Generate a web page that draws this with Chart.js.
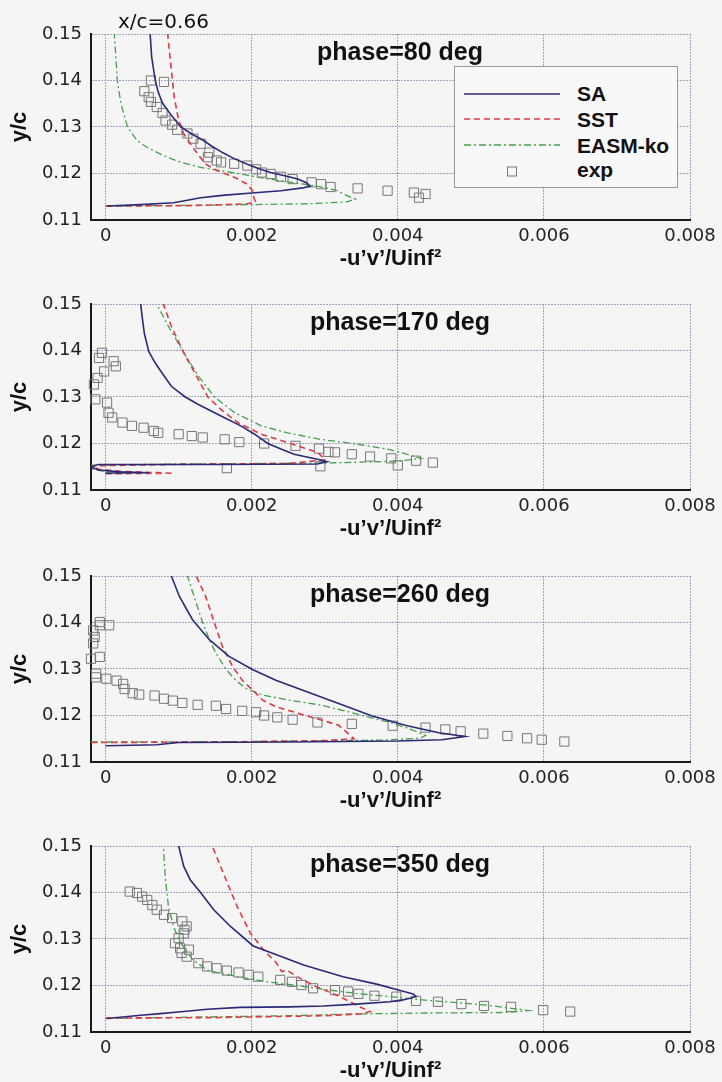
<!DOCTYPE html>
<html>
<head>
<meta charset="utf-8">
<title>-u'v' profiles at x/c=0.66</title>
<script src="https://cdn.jsdelivr.net/npm/chart.js"></script>
<style>
  body { margin: 0; background: #f5f5f5; }
  #page { position: relative; width: 722px; height: 1082px; overflow: hidden; font-family: "Liberation Sans", Arial, sans-serif; color: #111; }
  canvas { position: absolute; left: 0; }
  .phase { position: absolute; left: 250px; width: 300px; text-align: center; font-weight: bold; font-size: 25px; line-height: 25px; white-space: nowrap; }
  .xc { position: absolute; left: 118px; top: 11px; font-family: "DejaVu Sans", sans-serif; font-size: 20px; line-height: 20px; }
  #legend { position: absolute; left: 454px; top: 66px; width: 222px; height: 120px; border: 1px solid #9a9a9a; background: #f8f8f8; }
  #legend svg { position: absolute; left: 0; top: 0; }
  .lg { position: absolute; left: 122px; font-weight: bold; font-size: 21px; line-height: 21px; }
</style>
</head>
<body>
<div id="page">
  <canvas id="c80" width="722" height="270" style="top:0px"></canvas>
  <canvas id="c170" width="722" height="270" style="top:270px"></canvas>
  <canvas id="c260" width="722" height="270" style="top:542px"></canvas>
  <canvas id="c350" width="722" height="270" style="top:812px"></canvas>

  <div class="xc">x/c=0.66</div>
  <div class="phase" style="top:39px">phase=80 deg</div>
  <div class="phase" style="top:309px">phase=170 deg</div>
  <div class="phase" style="top:581px">phase=260 deg</div>
  <div class="phase" style="top:851px">phase=350 deg</div>

  <div id="legend">
    <svg width="224" height="122">
      <line x1="9" y1="27" x2="105" y2="27" stroke="#2b2a78" stroke-width="1.6"/>
      <line x1="9" y1="52" x2="105" y2="52" stroke="#dc3a44" stroke-width="1.6" stroke-dasharray="6 4"/>
      <line x1="9" y1="78" x2="105" y2="78" stroke="#46a04a" stroke-width="1.3" stroke-dasharray="7 3 2 3"/>
      <rect x="52.5" y="100" width="9" height="9" fill="none" stroke="#777" stroke-width="1"/>
    </svg>
    <div class="lg" style="top:16px">SA</div>
    <div class="lg" style="top:42px">SST</div>
    <div class="lg" style="top:68px">EASM-ko</div>
    <div class="lg" style="top:92px">exp</div>
  </div>
</div>

<script>
// axis ticks
const xTicks = [0, 0.002, 0.004, 0.006, 0.008];
const yTicks = [0.11, 0.12, 0.13, 0.14, 0.15];

// phase = 80 deg  ([-u'v'/Uinf^2, y/c])
const sa80 = [[0.00002,0.1130],[0.00048,0.1133],[0.00093,0.1137],[0.0011,0.1142],[0.0013,0.1148],[0.0016,0.1153],[0.0020,0.1158],[0.0024,0.1163],[0.0027,0.1169],[0.0028,0.1173],[0.00275,0.1180],[0.00263,0.1188],[0.00245,0.1195],[0.00226,0.1202],[0.0021,0.1210],[0.00194,0.1220],[0.00176,0.1232],[0.0016,0.1245],[0.00146,0.1258],[0.00134,0.1271],[0.00118,0.1285],[0.00103,0.1300],[0.0009,0.1325],[0.00078,0.1351],[0.00072,0.1375],[0.00068,0.1400],[0.00063,0.1451],[0.00061,0.1500]];
const sst80 = [[0.0000,0.1130],[0.0012,0.1131],[0.0016,0.1133],[0.00195,0.1135],[0.00205,0.1140],[0.00203,0.1148],[0.00201,0.1163],[0.00194,0.1177],[0.00176,0.1192],[0.00153,0.1206],[0.00137,0.1220],[0.00126,0.1242],[0.00116,0.1264],[0.00107,0.1285],[0.0010,0.1314],[0.00094,0.1364],[0.00089,0.1437],[0.00085,0.1500]];
const easm80 = [[0.0000,0.1130],[0.0015,0.1132],[0.0028,0.1135],[0.0033,0.1139],[0.00342,0.1145],[0.00331,0.1152],[0.00317,0.1163],[0.00299,0.1170],[0.00272,0.1177],[0.0024,0.1184],[0.00208,0.1192],[0.00185,0.1199],[0.00158,0.1206],[0.0013,0.1213],[0.00103,0.1224],[0.0008,0.1238],[0.00057,0.1256],[0.00043,0.1271],[0.0003,0.1300],[0.00021,0.1350],[0.00016,0.1400],[0.00014,0.1451],[0.00012,0.1500]];
const exp80 = [[0.00062,0.1400],[0.0008,0.1397],[0.00053,0.1377],[0.00059,0.1364],[0.00062,0.1354],[0.0007,0.1343],[0.00078,0.1330],[0.00082,0.1314],[0.00091,0.1305],[0.00098,0.1294],[0.00112,0.1286],[0.0012,0.1275],[0.0013,0.1264],[0.00142,0.1245],[0.0014,0.1235],[0.00152,0.1228],[0.00158,0.1224],[0.00176,0.1221],[0.00194,0.1217],[0.00206,0.1209],[0.00214,0.1202],[0.00226,0.1199],[0.0024,0.1193],[0.00256,0.1188],[0.00282,0.1181],[0.00295,0.1177],[0.00308,0.1171],[0.00345,0.1168],[0.00386,0.1163],[0.00422,0.1159],[0.00429,0.1148],[0.00438,0.1156]];

// phase = 170 deg
const sa170 = [[0.0000,0.1136],[0.0003,0.1137],[0.0006,0.1137],[0.0002,0.1139],[-0.0001,0.1143],[-0.0002,0.1150],[-0.0001,0.1155],[0.0015,0.1155],[0.0029,0.1156],[0.00303,0.1161],[0.0029,0.1166],[0.00258,0.1177],[0.0024,0.1188],[0.00222,0.1200],[0.00204,0.1220],[0.00185,0.1238],[0.00158,0.1259],[0.00127,0.1284],[0.00109,0.1300],[0.0009,0.1323],[0.00077,0.1352],[0.00068,0.1373],[0.00059,0.1398],[0.00053,0.1437],[0.0005,0.1473],[0.00048,0.1500]];
const sst170 = [[0.0000,0.1135],[0.00093,0.1136],[0.0002,0.1140],[-0.0001,0.1145],[-0.0002,0.1152],[0.0010,0.1155],[0.0025,0.1157],[0.00301,0.1165],[0.0029,0.1181],[0.00253,0.1200],[0.00213,0.1220],[0.00181,0.1245],[0.00158,0.1273],[0.0014,0.1300],[0.00122,0.1352],[0.00106,0.1398],[0.0009,0.1452],[0.00079,0.1500]];
const easm170 = [[0.0000,0.1137],[0.0005,0.1137],[0.0000,0.1140],[-0.0002,0.1145],[-0.0002,0.1153],[0.0010,0.1156],[0.0030,0.1158],[0.0040,0.1162],[0.00432,0.1168],[0.00412,0.1177],[0.00385,0.1188],[0.00339,0.1200],[0.00294,0.1209],[0.00249,0.1223],[0.00213,0.1238],[0.00177,0.1266],[0.00149,0.1300],[0.00127,0.1345],[0.00106,0.1398],[0.00086,0.1452],[0.0007,0.1500]];
const exp170 = [[-0.00005,0.1395],[-0.00009,0.1384],[0.00011,0.1377],[0.00014,0.1366],[-0.00002,0.1355],[-0.00011,0.1341],[-0.00016,0.1327],[-0.00014,0.1295],[0.00002,0.1288],[0.00004,0.1266],[0.00009,0.1256],[0.00023,0.1245],[0.00036,0.1238],[0.00052,0.1234],[0.00066,0.1227],[0.00072,0.1223],[0.0010,0.1220],[0.00118,0.1216],[0.00133,0.1213],[0.00163,0.1209],[0.00183,0.1203],[0.00217,0.1200],[0.0026,0.1195],[0.00292,0.1189],[0.00305,0.1182],[0.00314,0.1181],[0.00337,0.1177],[0.00362,0.1172],[0.00391,0.1168],[0.00425,0.1163],[0.00448,0.1159],[0.00166,0.1147],[0.00294,0.1151],[0.0040,0.1153]];

// phase = 260 deg
const sa260 = [[0.0000,0.1135],[0.0007,0.1137],[0.0010,0.1142],[0.0025,0.1143],[0.0040,0.1145],[0.0046,0.1148],[0.00492,0.1155],[0.00456,0.1163],[0.0041,0.1179],[0.00365,0.1199],[0.00319,0.1226],[0.00269,0.1255],[0.00233,0.1276],[0.00201,0.1299],[0.00169,0.1327],[0.00142,0.1363],[0.00119,0.1406],[0.00101,0.1456],[0.0009,0.1500]];
const sst260 = [[-0.0002,0.1142],[0.0000,0.1142],[0.0015,0.1143],[0.0030,0.1146],[0.0034,0.1150],[0.00335,0.1157],[0.00319,0.1179],[0.00296,0.1190],[0.00265,0.1204],[0.00233,0.1219],[0.00215,0.1233],[0.00201,0.1255],[0.00187,0.1276],[0.00174,0.1305],[0.0016,0.1348],[0.00149,0.1399],[0.00137,0.1456],[0.00124,0.1500]];
const easm260 = [[-0.0002,0.1143],[0.0000,0.1143],[0.0020,0.1144],[0.0038,0.1147],[0.0043,0.1151],[0.00438,0.1157],[0.00415,0.1172],[0.00387,0.1186],[0.00342,0.1204],[0.00296,0.1222],[0.00251,0.1233],[0.00215,0.1244],[0.00192,0.1258],[0.00178,0.1276],[0.00165,0.1299],[0.00151,0.1334],[0.00142,0.1363],[0.00133,0.1399],[0.00124,0.1442],[0.00112,0.1500]];
const exp260 = [[-0.00008,0.1401],[0.00005,0.1394],[-0.00008,0.1394],[-0.00017,0.1383],[-0.00015,0.1369],[-0.00017,0.1355],[-0.00008,0.1326],[-0.0002,0.1322],[-0.00013,0.1290],[-0.00013,0.1282],[0.00001,0.1279],[0.00015,0.1275],[0.00024,0.1268],[0.00026,0.1257],[0.00037,0.1248],[0.00046,0.1245],[0.00067,0.1243],[0.0008,0.1236],[0.00092,0.1232],[0.00105,0.1227],[0.00126,0.1223],[0.00151,0.1221],[0.00165,0.1214],[0.00187,0.1210],[0.00206,0.1207],[0.00217,0.1200],[0.00235,0.1196],[0.00256,0.1191],[0.0029,0.1185],[0.00337,0.1182],[0.00393,0.1178],[0.00438,0.1174],[0.00465,0.1170],[0.00486,0.1166],[0.00517,0.1161],[0.0055,0.1156],[0.00577,0.1151],[0.00597,0.1148],[0.00628,0.1144]];

// phase = 350 deg
const sa350 = [[0.00002,0.1129],[0.00048,0.1136],[0.00071,0.1139],[0.00107,0.1144],[0.00139,0.1149],[0.00184,0.1153],[0.00252,0.1154],[0.00298,0.1156],[0.00343,0.1160],[0.00389,0.1165],[0.00407,0.1169],[0.00425,0.1176],[0.00421,0.1182],[0.00402,0.1190],[0.00371,0.1203],[0.00325,0.1219],[0.00271,0.1244],[0.00234,0.1266],[0.00202,0.1285],[0.00171,0.1327],[0.00148,0.1363],[0.0013,0.1400],[0.00116,0.1427],[0.00107,0.1456],[0.0010,0.1500]];
const sst350 = [[0.0000,0.1130],[0.0015,0.1131],[0.0030,0.1135],[0.0035,0.1139],[0.00362,0.1144],[0.00348,0.1154],[0.00321,0.1176],[0.00289,0.1197],[0.00262,0.1219],[0.00248,0.1233],[0.00241,0.1230],[0.00234,0.1248],[0.00216,0.1277],[0.00198,0.1313],[0.0018,0.1370],[0.00161,0.1442],[0.00146,0.1500]];
const easm350 = [[0.0000,0.1129],[0.0012,0.1132],[0.0025,0.1135],[0.0035,0.1139],[0.0045,0.1141],[0.0055,0.1142],[0.00579,0.1146],[0.00521,0.1158],[0.0048,0.1163],[0.00434,0.1169],[0.00389,0.1176],[0.00343,0.1183],[0.00307,0.1190],[0.00262,0.1200],[0.00221,0.1208],[0.0018,0.1219],[0.00139,0.1233],[0.0012,0.1255],[0.00109,0.1277],[0.0010,0.1300],[0.00093,0.1327],[0.00086,0.1370],[0.00082,0.1427],[0.00079,0.1500]];
const exp350 = [[0.00033,0.1402],[0.00043,0.1399],[0.0005,0.1391],[0.00057,0.1384],[0.00064,0.1373],[0.0007,0.1363],[0.0008,0.1352],[0.00091,0.1345],[0.00105,0.1338],[0.00111,0.1327],[0.00108,0.1320],[0.00107,0.1312],[0.0010,0.1302],[0.00095,0.1291],[0.00102,0.1280],[0.00114,0.1277],[0.00104,0.1270],[0.00111,0.1262],[0.00127,0.1248],[0.00139,0.1241],[0.00152,0.1237],[0.00166,0.1232],[0.00182,0.1228],[0.00196,0.1223],[0.00209,0.1219],[0.00239,0.1212],[0.00255,0.1208],[0.00268,0.1201],[0.00284,0.1194],[0.00314,0.1190],[0.00332,0.1187],[0.00346,0.1182],[0.00368,0.1178],[0.00398,0.1176],[0.00425,0.1167],[0.00455,0.1165],[0.00487,0.1160],[0.00518,0.1156],[0.00555,0.1154],[0.00599,0.1147],[0.00636,0.1144]];

const saColor = '#2b2a78';
const sstColor = '#dc3a44';
const easmColor = '#46a04a';
const expColor = '#777777';
const gridColor = '#a4a4c0';
const axisFont = { family: 'DejaVu Sans', size: 18 };

function pts(arr) {
    return arr.map(p => ({ x: p[0], y: p[1] }));
}

function makePanel(id, sa, sst, easm, exp) {
    return new Chart(document.getElementById(id), {
        type: 'scatter',
        data: {
            datasets: [
                { label: 'SA', data: pts(sa), showLine: true, borderColor: saColor, borderWidth: 1.6, pointRadius: 0 },
                { label: 'SST', data: pts(sst), showLine: true, borderColor: sstColor, borderWidth: 1.6, borderDash: [6, 4], pointRadius: 0 },
                { label: 'EASM-ko', data: pts(easm), showLine: true, borderColor: easmColor, borderWidth: 1.3, borderDash: [7, 3, 2, 3], pointRadius: 0 },
                { label: 'exp', data: pts(exp), showLine: false, pointStyle: 'rect', pointRadius: 6.5,
                  borderColor: expColor, backgroundColor: 'rgba(0,0,0,0)', pointBorderWidth: 1, clip: false }
            ]
        },
        options: {
            responsive: false,
            animation: false,
            events: [],
            layout: { padding: { top: 34, right: 32, left: 0, bottom: 0 } },
            plugins: { legend: { display: false }, tooltip: { enabled: false } },
            scales: {
                x: {
                    type: 'linear', min: -0.0002, max: 0.008,
                    afterBuildTicks: s => { s.ticks = xTicks.map(v => ({ value: v })); },
                    afterFit: s => { s.height = 50; },
                    grid: { color: gridColor, lineWidth: 1, drawTicks: false },
                    border: { color: '#1a1a1a', width: 2, dash: [2, 1] },
                    ticks: { padding: 6, color: '#222', font: axisFont, maxRotation: 0,
                             callback: v => v === 0 ? '0' : v.toFixed(3) },
                    title: { display: true, text: '-u\u2019v\u2019/Uinf\u00b2', color: '#111',
                             font: { family: 'Liberation Sans', size: 22, weight: 'bold', lineHeight: 1 }, padding: { top: 0, bottom: 0 } }
                },
                y: {
                    type: 'linear', min: 0.11, max: 0.15,
                    afterBuildTicks: s => { s.ticks = yTicks.map(v => ({ value: v })); },
                    afterFit: s => { s.width = 91; },
                    grid: { color: gridColor, lineWidth: 1, drawTicks: false },
                    border: { color: '#1a1a1a', width: 2, dash: [2, 1] },
                    ticks: { padding: 9, color: '#222', font: axisFont, callback: v => v.toFixed(2) },
                    title: { display: true, text: 'y/c', color: '#111',
                             font: { family: 'Liberation Sans', size: 22, weight: 'bold' }, padding: { top: 7, bottom: 0 } }
                }
            }
        }
    });
}

makePanel('c80', sa80, sst80, easm80, exp80);
makePanel('c170', sa170, sst170, easm170, exp170);
makePanel('c260', sa260, sst260, easm260, exp260);
makePanel('c350', sa350, sst350, easm350, exp350);
</script>
</body>
</html>
